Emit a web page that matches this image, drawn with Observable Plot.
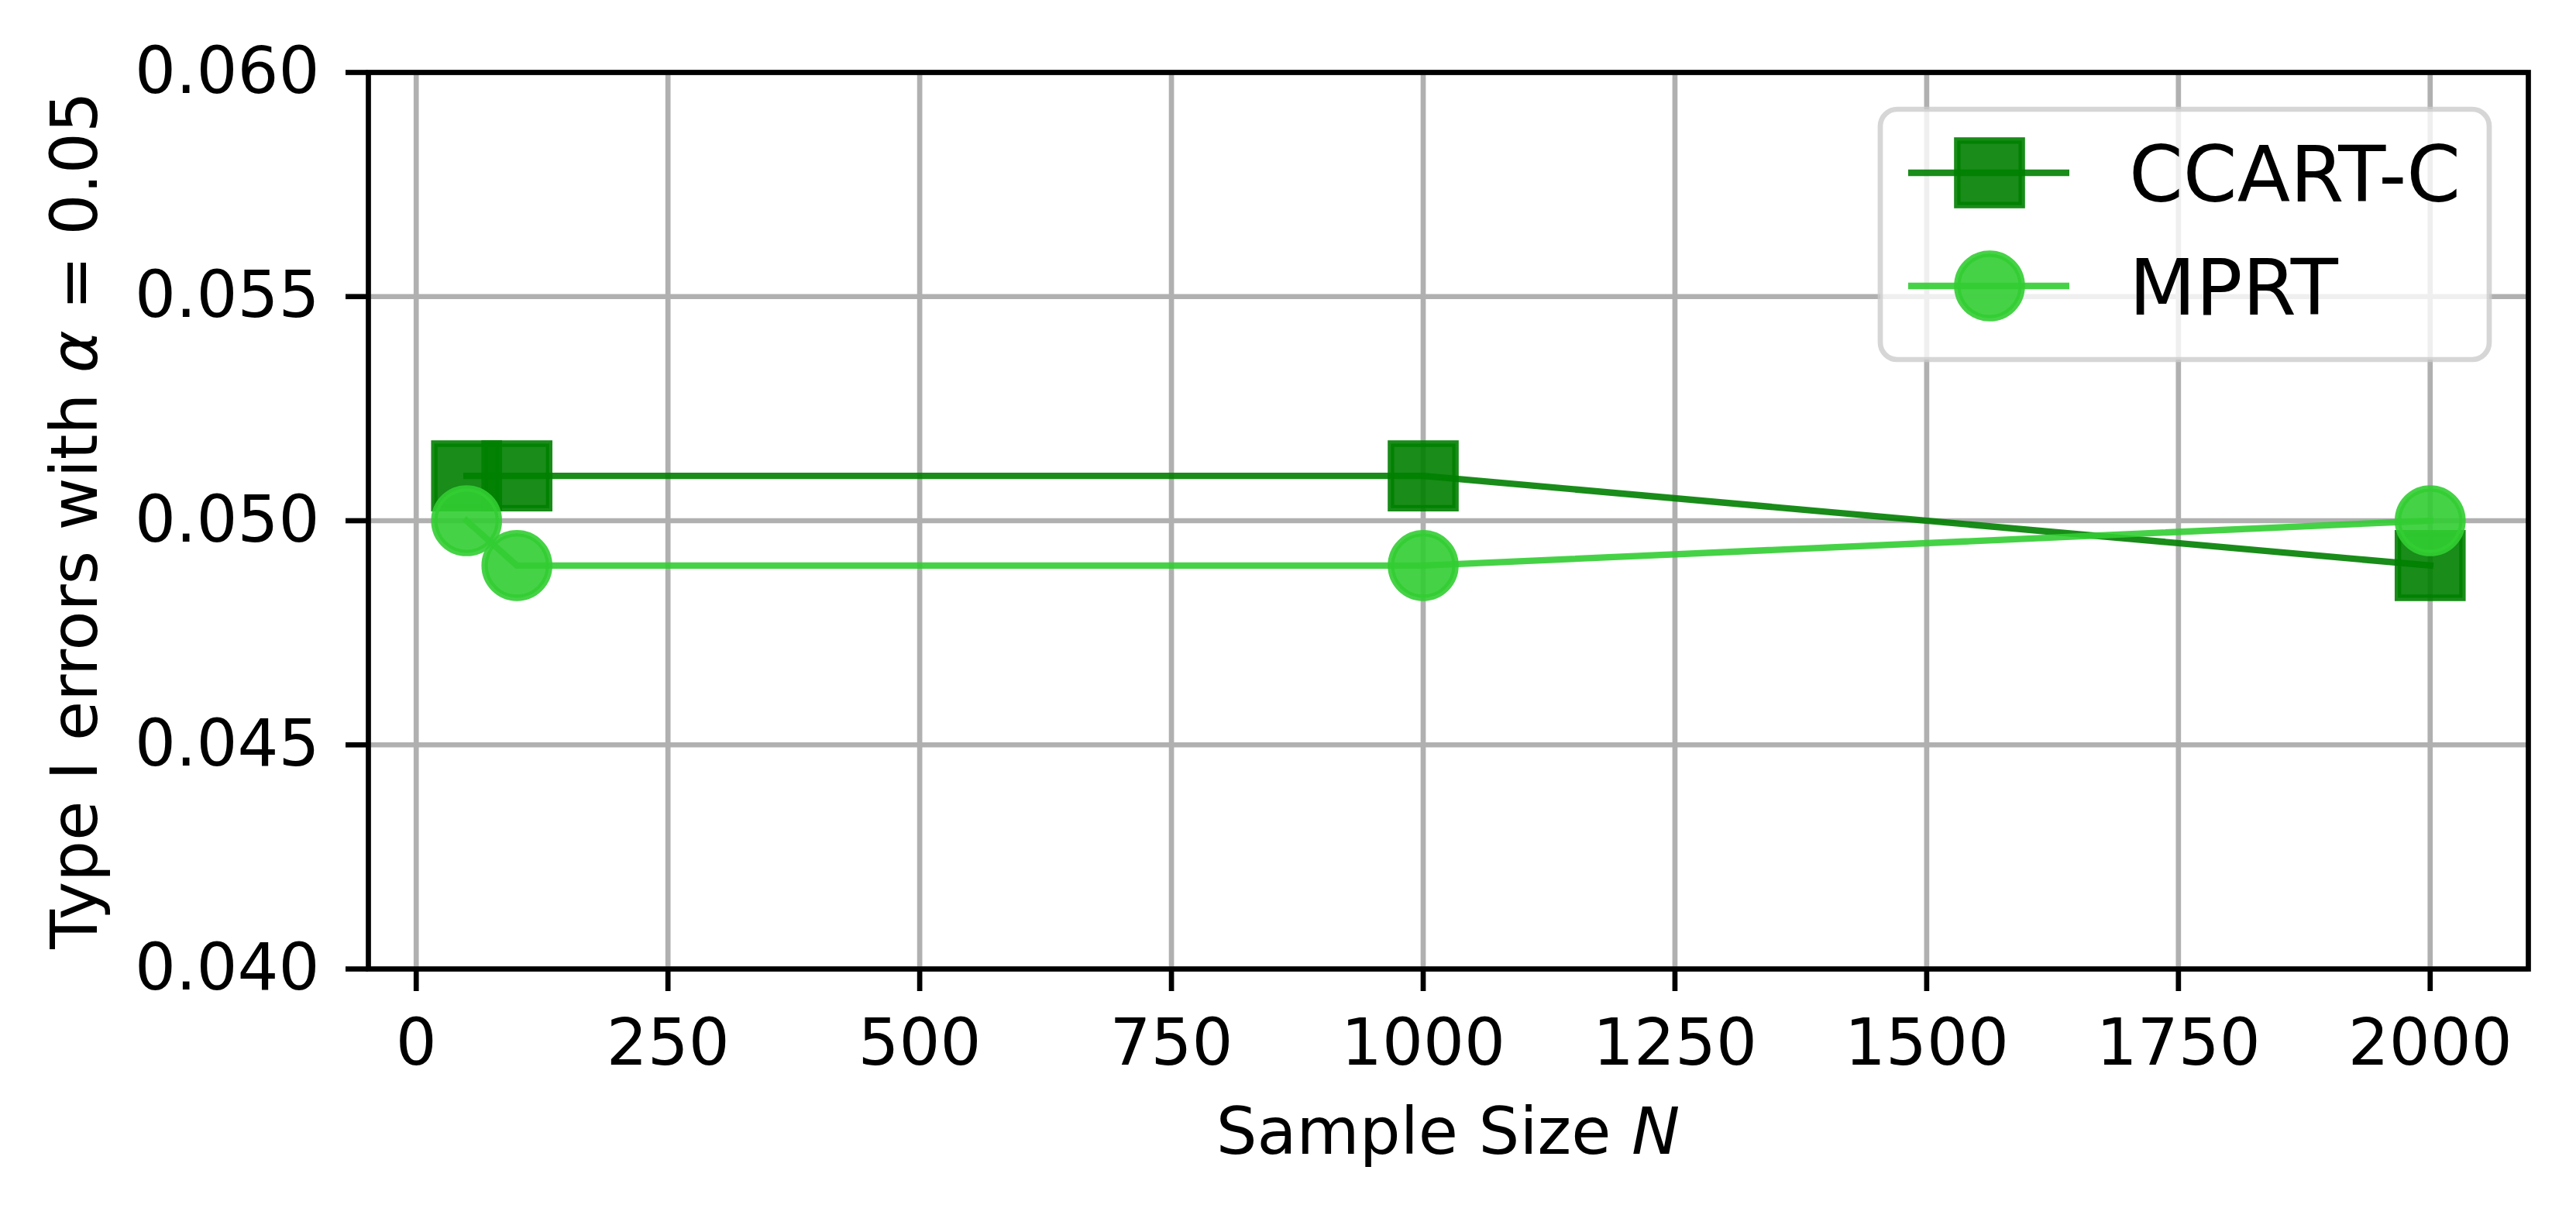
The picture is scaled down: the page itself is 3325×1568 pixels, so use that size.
<!DOCTYPE html>
<html>
<head>
<meta charset="utf-8">
<script src="https://cdn.jsdelivr.net/npm/d3@7"></script>
<script src="https://cdn.jsdelivr.net/npm/@observablehq/plot@0.6"></script>
<style>
  html, body { margin: 0; padding: 0; background: #ffffff; }
  #chart svg { display: block; }
</style>
</head>
<body>
<div id="chart"></div>
<script>
// ---- data ----
const sampleSizes = [50, 100, 1000, 2000];
const ccartC = [0.051, 0.051, 0.051, 0.049];
const mprt = [0.050, 0.049, 0.049, 0.050];
const seriesNames = ["CCART-C", "MPRT"];
const seriesColors = ["#008000", "#32cd32"];
const seriesSymbols = ["square", "circle"];
const xTicks = [0, 250, 500, 750, 1000, 1250, 1500, 1750, 2000];
const yTicks = [0.040, 0.045, 0.050, 0.055, 0.060];

const W = 3325, H = 1568;
const mL = 475, mR = 62, mT = 93, mB = 318;
const fontFamily = "DejaVu Sans";
const tickFont = 83.3;
const lw = 8.33;          // 1pt at 600 dpi
const ms = 83.3;          // marker size 10pt
const axW = 6.7;

const seriesData = [ccartC, mprt].map((vals, k) =>
  sampleSizes.map((n, i) => ({ N: n, v: vals[i], s: seriesNames[k] }))
);

const marks = [
  Plot.gridX(xTicks, { stroke: "#b0b0b0", strokeOpacity: 1, strokeWidth: axW }),
  Plot.gridY(yTicks, { stroke: "#b0b0b0", strokeOpacity: 1, strokeWidth: axW }),
];
seriesData.forEach((d, k) => {
  marks.push(Plot.line(d, { x: "N", y: "v", stroke: seriesColors[k], strokeWidth: lw, strokeOpacity: 0.9, strokeLinecap: "square" }));
  marks.push(Plot.dot(d, {
    x: "N", y: "v", symbol: seriesSymbols[k],
    r: seriesSymbols[k] === "square" ? (ms / 2) * 2 / Math.sqrt(Math.PI) : ms / 2,
    fill: seriesColors[k], fillOpacity: 0.9,
    stroke: seriesColors[k], strokeOpacity: 0.9, strokeWidth: lw
  }));
});
marks.push(
  Plot.axisX(xTicks, { tickSize: 29, tickPadding: 35, strokeWidth: axW, fontSize: tickFont, tickFormat: d => String(d), label: null }),
  Plot.axisY(yTicks, { tickSize: 29, tickPadding: 34, strokeWidth: axW, fontSize: tickFont, tickFormat: d3.format(".3f"), label: null }),
  Plot.frame({ stroke: "black", strokeWidth: axW })
);

const chart = Plot.plot({
  width: W, height: H,
  marginLeft: mL, marginRight: mR, marginTop: mT, marginBottom: mB,
  x: { domain: [-47.5, 2097.5] },
  y: { domain: [0.040, 0.060] },
  style: { fontFamily, fontSize: tickFont + "px", background: "white", color: "black", overflow: "visible" },
  marks
});
document.getElementById("chart").appendChild(chart);

const svg = d3.select(chart);

// axis labels
const xl = svg.append("text")
  .attr("x", (mL + (W - mR)) / 2).attr("y", 1489)
  .attr("text-anchor", "middle")
  .attr("font-family", fontFamily).attr("font-size", tickFont).attr("fill", "black");
xl.append("tspan").text("Sample Size ");
xl.append("tspan").attr("font-style", "italic").text("N");

const yl = svg.append("text")
  .attr("transform", `translate(125, ${(mT + (H - mB)) / 2}) rotate(-90)`)
  .attr("text-anchor", "middle")
  .attr("font-family", fontFamily).attr("font-size", tickFont).attr("fill", "black");
yl.append("tspan").text("Type I errors with ");
yl.append("tspan").attr("font-style", "italic").text("α");
yl.append("tspan").text(" = 0.05");

// legend
const lg = svg.append("g");
lg.append("rect")
  .attr("x", 2427).attr("y", 141).attr("width", 786).attr("height", 323)
  .attr("rx", 22).attr("ry", 22)
  .attr("fill", "white").attr("fill-opacity", 0.8)
  .attr("stroke", "#cccccc").attr("stroke-opacity", 0.8).attr("stroke-width", axW);
seriesNames.forEach((name, k) => {
  const cy = 223 + k * 146;
  const c = seriesColors[k];
  lg.append("line").attr("x1", 2463).attr("x2", 2671).attr("y1", cy).attr("y2", cy)
    .attr("stroke", c).attr("stroke-opacity", 0.9).attr("stroke-width", lw);
  if (seriesSymbols[k] === "square") {
    lg.append("rect").attr("x", 2568 - ms / 2).attr("y", cy - ms / 2).attr("width", ms).attr("height", ms)
      .attr("fill", c).attr("fill-opacity", 0.9).attr("stroke", c).attr("stroke-opacity", 0.9).attr("stroke-width", lw);
  } else {
    lg.append("circle").attr("cx", 2568).attr("cy", cy).attr("r", ms / 2)
      .attr("fill", c).attr("fill-opacity", 0.9).attr("stroke", c).attr("stroke-opacity", 0.9).attr("stroke-width", lw);
  }
  lg.append("text").attr("x", 2748).attr("y", cy + 36.5)
    .attr("text-anchor", "start")
    .attr("font-family", fontFamily).attr("font-size", 100).attr("fill", "black")
    .text(name);
});
</script>
</body>
</html>
